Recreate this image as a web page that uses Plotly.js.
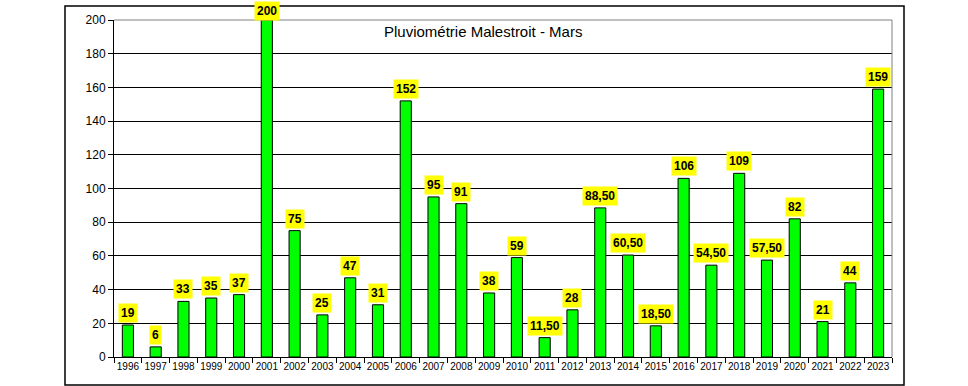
<!DOCTYPE html>
<html><head><meta charset="utf-8">
<script src="https://cdn.plot.ly/plotly-3.0.1.min.js"></script>
<style>html,body{margin:0;padding:0;background:#fff;}#chart{width:968px;height:386px;}</style>
</head><body><div id="chart"></div>
<script>
const years = ['1996','1997','1998','1999','2000','2001','2002','2003','2004','2005','2006','2007','2008','2009','2010','2011','2012','2013','2014','2015','2016','2017','2018','2019','2020','2021','2022','2023'];
const rainfall = [19,6,33,35,37,200,75,25,47,31,152,95,91,38,59,11.5,28,88.5,60.5,18.5,106,54.5,109,57.5,82,21,44,159];
const yTicks = [0,20,40,60,80,100,120,140,160,180,200];
const chartTitle = 'Pluviométrie Malestroit - Mars';

function fmt(v){ return Number.isInteger(v) ? String(v) : v.toFixed(2).replace('.', ','); }

const idx = years.map((_, i) => i);
const bounds = years.concat(['']).map((_, i) => i - 0.5);
const xRange = [-0.5, years.length - 0.5];
const yRange = [0, 200];

const trace = {
  type: 'bar', x: idx, y: rainfall,
  marker: {color: '#00ff00', line: {color: '#000', width: 1}},
  hoverinfo: 'skip'
};
const dummy = {type: 'scatter', x: bounds, y: bounds.map(() => 0), xaxis: 'x2', mode: 'none', hoverinfo: 'skip'};

const annotations = idx.map(i => ({
  x: i, y: rainfall[i], xref: 'x', yref: 'y',
  text: '<b>' + fmt(rainfall[i]) + '</b>',
  showarrow: false, yanchor: 'bottom', yshift: rainfall[i] >= yRange[1] ? -1 : 2,
  bgcolor: '#ffff00', borderpad: 2,
  font: {family: 'Arial, Liberation Sans', size: 12, color: '#000'}
}));
annotations.push({
  x: (483-114)/778, xref: 'paper', y: 1, yref: 'paper', showarrow: false,
  text: chartTitle, xanchor: 'center', yanchor: 'top', yshift: -1,
  font: {family: 'Arial, Liberation Sans', size: 15, color: '#000'}
});

const layout = {
  width: 968, height: 386,
  margin: {l: 114, r: 76, t: 20, b: 29},
  paper_bgcolor: '#fff', plot_bgcolor: '#fff',
  showlegend: false, bargap: 0.6,
  xaxis: {
    range: xRange, tickvals: idx, ticktext: years, showline: true, linecolor: '#000', linewidth: 1,
    ticks: '', tickfont: {family: 'Arial, Liberation Sans', size: 10, color: '#000'},
    showgrid: false, zeroline: false, fixedrange: true
  },
  xaxis2: {
    overlaying: 'x', side: 'bottom', range: xRange, tickvals: bounds, showticklabels: false,
    ticks: 'outside', ticklen: 5, tickcolor: '#000', showgrid: false, zeroline: false, showline: false
  },
  yaxis: {
    range: yRange, tickvals: yTicks, showline: true, linecolor: '#000', linewidth: 1,
    ticks: 'outside', ticklen: 5, tickcolor: '#000',
    tickfont: {family: 'Arial, Liberation Sans', size: 12, color: '#000'},
    showgrid: true, gridcolor: '#000', gridwidth: 1, zeroline: false, fixedrange: true
  },
  annotations: annotations,
  shapes: [
    {type: 'line', xref: 'paper', yref: 'paper', x0: 0, x1: 1, y0: 1, y1: 1, line: {color: '#808080', width: 1}},
    {type: 'line', xref: 'paper', yref: 'paper', x0: 1, x1: 1, y0: 0, y1: 1, line: {color: '#808080', width: 1}},
    {type: 'rect', xref: 'paper', yref: 'paper', x0: (65-114)/778, x1: (904-114)/778, y0: (357-385)/337, y1: (357-6)/337, line: {color: '#000', width: 1.5}, layer: 'below'}
  ]
};
Plotly.newPlot('chart', [trace, dummy], layout, {displayModeBar: false, staticPlot: true});
</script></body></html>
